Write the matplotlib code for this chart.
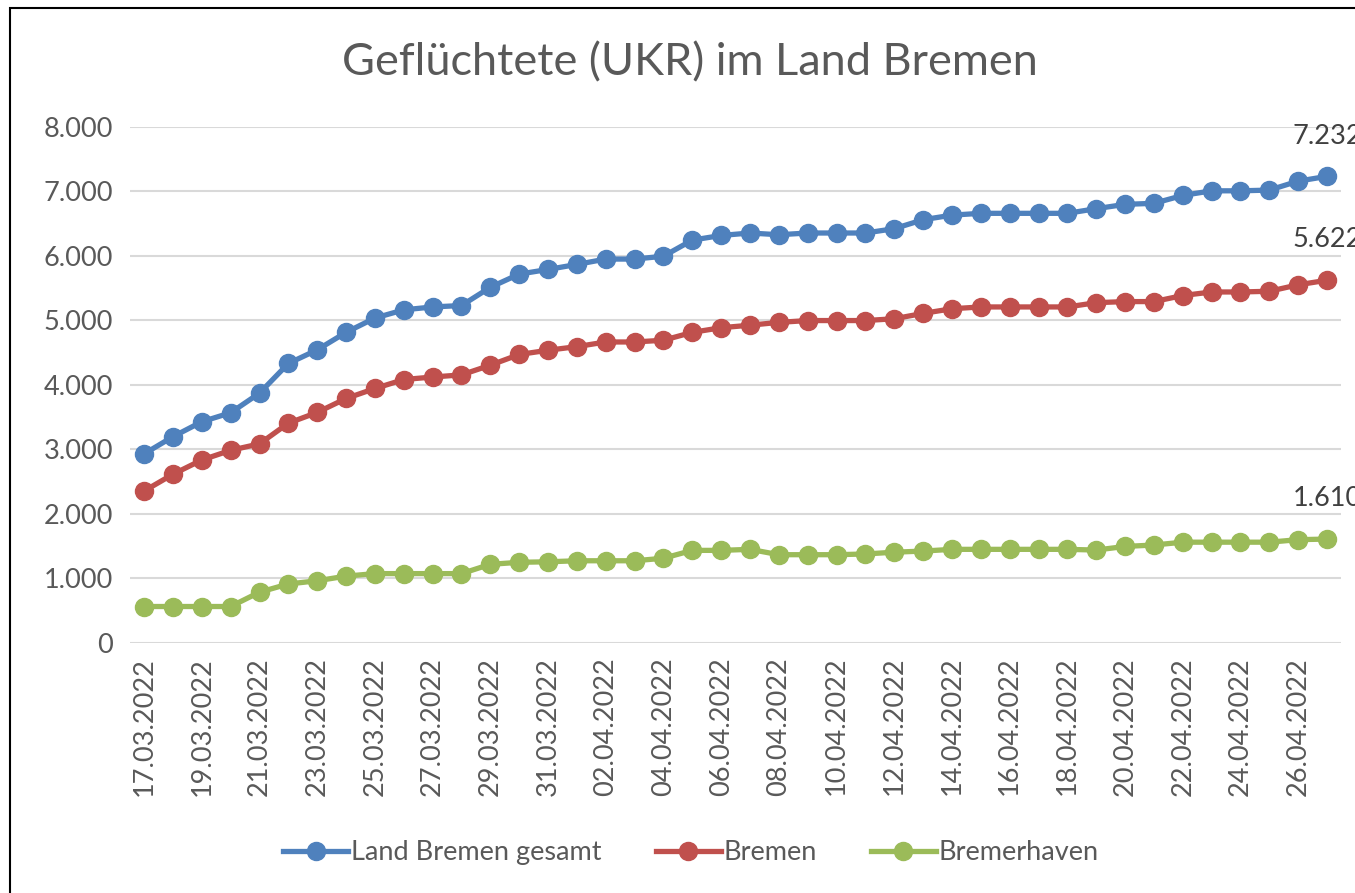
import matplotlib.pyplot as plt
from matplotlib.patches import Rectangle

dates = (
    [f"{d:02d}.03.2022" for d in range(17, 32)]
    + [f"{d:02d}.04.2022" for d in range(1, 28)]
)

land_gesamt = [
    2931, 3197, 3429, 3568, 3872, 4332, 4543, 4814, 5036, 5163, 5208, 5230,
    5512, 5717, 5789, 5867, 5950, 5950, 5994, 6244, 6316, 6354, 6327, 6354,
    6354, 6354, 6421, 6560, 6631, 6659, 6659, 6659, 6659, 6731, 6798, 6814,
    6936, 7008, 7008, 7019, 7158, 7232,
]
bremen = [
    2355, 2615, 2836, 2986, 3086, 3407, 3573, 3789, 3944, 4083, 4122, 4155,
    4305, 4471, 4537, 4593, 4665, 4665, 4692, 4814, 4886, 4925, 4969, 4997,
    4997, 4997, 5025, 5108, 5180, 5208, 5208, 5208, 5208, 5274, 5291, 5291,
    5385, 5440, 5440, 5451, 5551, 5622,
]
bremerhaven = [
    565, 565, 565, 565, 787, 914, 964, 1036, 1075, 1075, 1075, 1075,
    1219, 1250, 1258, 1274, 1274, 1274, 1313, 1435, 1435, 1451, 1368, 1368,
    1368, 1379, 1407, 1424, 1451, 1451, 1451, 1451, 1451, 1440, 1496, 1518,
    1562, 1562, 1562, 1562, 1601, 1610,
]

series = [
    ("Land Bremen gesamt", land_gesamt, "#4F81BD"),
    ("Bremen", bremen, "#C0504D"),
    ("Bremerhaven", bremerhaven, "#9BBB59"),
]

plt.rcParams["font.family"] = ["Lato", "DejaVu Sans"]

fig = plt.figure(figsize=(13.55, 8.93), dpi=100)
ax = fig.add_axes([0.0957, 0.280, 0.8943, 0.578])

x = list(range(len(dates)))
for name, vals, color in series:
    ax.plot(x, vals, color=color, lw=3.8, marker="o", ms=13, label=name)
    ax.annotate(f"{vals[-1]:,}".replace(",", "."), (x[-1], vals[-1]),
                xytext=(0, 20), textcoords="offset points", ha="center",
                va="bottom", fontsize=19.5, color="#404040",
                annotation_clip=False)

ax.set_xlim(-0.5, len(dates) - 0.5)
ax.set_ylim(0, 8000)
yt = list(range(0, 8001, 1000))
ax.set_yticks(yt)
ax.set_yticklabels([f"{v:,}".replace(",", ".") for v in yt], fontsize=19.5,
                   color="#595959")
ax.set_xticks(x[::2])
ax.set_xticklabels(dates[::2], rotation=90, fontsize=19.5, color="#595959")
ax.tick_params(axis="y", length=0, pad=12)
ax.tick_params(axis="x", length=0, pad=10)
ax.grid(axis="y", color="#D9D9D9", lw=1.5)
ax.set_axisbelow(True)
for s in ax.spines.values():
    s.set_visible(False)

fig.text(0.509, 0.93, "Geflüchtete (UKR) im Land Bremen", ha="center",
         va="center", fontsize=32.5, color="#595959")

fig.legend(loc="center", bbox_to_anchor=(0.51, 0.045), ncol=3, frameon=False,
           fontsize=19.5, handlelength=2.4, handletextpad=0.1,
           columnspacing=2.0, labelcolor="#595959")

fig.patches.append(Rectangle((10 / 1355, -0.1), 2.0, (885 / 893) + 0.1,
                             transform=fig.transFigure, fill=False,
                             edgecolor="black", lw=1.5))

fig.savefig("out.png", dpi=100)
